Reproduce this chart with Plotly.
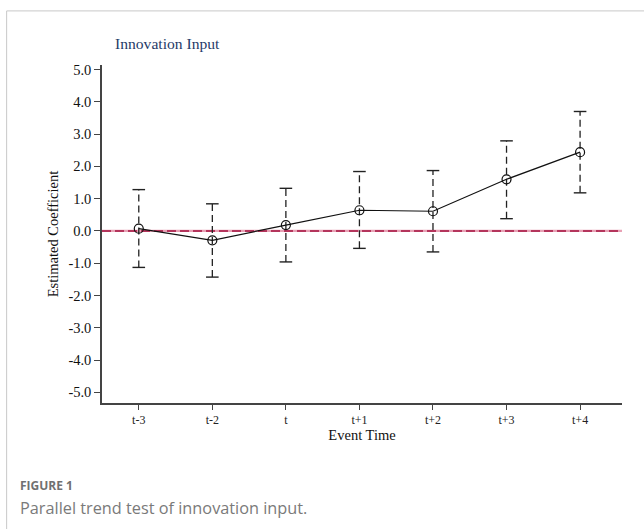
import plotly.graph_objects as go

# Event-study estimates for innovation input
periods = ["t-3", "t-2", "t", "t+1", "t+2", "t+3", "t+4"]
coef = [0.07, -0.29, 0.18, 0.64, 0.61, 1.60, 2.44]
ci_low = [-1.13, -1.43, -0.96, -0.54, -0.65, 0.38, 1.18]
ci_high = [1.28, 0.84, 1.32, 1.84, 1.87, 2.79, 3.70]
y_ticks = [5.0, 4.0, 3.0, 2.0, 1.0, 0.0, -1.0, -2.0, -3.0, -4.0, -5.0]

xs = list(range(len(periods)))
serif = "Liberation Serif"
sans = "Open Sans"
x_range = [-0.50, 6.57]

fig = go.Figure()

# zero reference line
fig.add_trace(go.Scatter(x=x_range, y=[0, 0], mode="lines",
                         line=dict(color="#e8a0b4", width=2.2),
                         hoverinfo="skip", showlegend=False, cliponaxis=False))
fig.add_trace(go.Scatter(x=x_range, y=[0, 0], mode="lines",
                         line=dict(color="#a3123f", width=1.6, dash="9px,4px"),
                         hoverinfo="skip", showlegend=False, cliponaxis=False))

# dashed confidence whiskers
wx, wy = [], []
for x, lo, hi in zip(xs, ci_low, ci_high):
    wx += [x, x, None]
    wy += [lo, hi, None]
fig.add_trace(go.Scatter(x=wx, y=wy, mode="lines",
                         line=dict(color="#222222", width=1.3, dash="7px,4px"),
                         hoverinfo="skip", showlegend=False))

# whisker caps
fig.add_trace(go.Scatter(x=xs + xs, y=ci_low + ci_high, mode="markers",
                         marker=dict(symbol="line-ew", size=9,
                                     line=dict(color="#222222", width=1.4)),
                         hoverinfo="skip", showlegend=False))

# point estimates
fig.add_trace(go.Scatter(x=xs, y=coef, mode="lines+markers",
                         line=dict(color="#111111", width=1.2),
                         marker=dict(symbol="circle", size=9, color="rgba(255,255,255,0)",
                                     line=dict(color="#111111", width=1.2)),
                         showlegend=False))

fig.update_layout(
    width=644, height=529,
    margin=dict(l=102, r=22, t=65, b=126),
    paper_bgcolor="white", plot_bgcolor="white",
    font=dict(family=serif, size=12, color="#111111"),
    xaxis=dict(
        range=x_range, tickvals=xs, ticktext=periods,
        showline=True, linecolor="#444444", linewidth=1.5,
        ticks="outside", ticklen=5, tickcolor="#444444",
        showgrid=False, zeroline=False,
        tickfont=dict(family=serif, size=12, color="#222222"),
        title=dict(text="Event Time", font=dict(family=serif, size=14.5, color="#111111"), standoff=3),
    ),
    yaxis=dict(
        range=[-5.33, 5.14], tickvals=y_ticks,
        ticktext=[f"{v:.1f}" for v in y_ticks],
        showline=True, linecolor="#444444", linewidth=1.5,
        ticks="outside", ticklen=6, tickcolor="#444444",
        showgrid=False, zeroline=False,
        tickfont=dict(family=serif, size=14.5, color="#111111"),
        title=dict(text="Estimated Coefficient", font=dict(family=serif, size=14.5, color="#111111"), standoff=6),
    ),
    shapes=[
        dict(type="rect", xref="paper", yref="paper",
             x0=-0.1834, x1=1.05, y0=-0.40, y1=1.16,
             line=dict(color="#c8c8c8", width=1), layer="below"),
    ],
    annotations=[
        dict(text="Innovation Input", xref="paper", yref="paper",
             x=0.022, y=1.033, xanchor="left", yanchor="bottom", showarrow=False,
             font=dict(family=serif, size=15.6, color="#1f3a68")),
        dict(text="<b>FIGURE 1</b>", xref="paper", yref="paper",
             x=-0.161, y=-0.244, xanchor="left", yanchor="middle", showarrow=False,
             font=dict(family=sans, size=12, color="#707070")),
        dict(text="Parallel trend test of innovation input.", xref="paper", yref="paper",
             x=-0.161, y=-0.31, xanchor="left", yanchor="middle", showarrow=False,
             font=dict(family=sans, size=16.3, color="#7a7a7a")),
    ],
)

fig.write_html("out.html")
